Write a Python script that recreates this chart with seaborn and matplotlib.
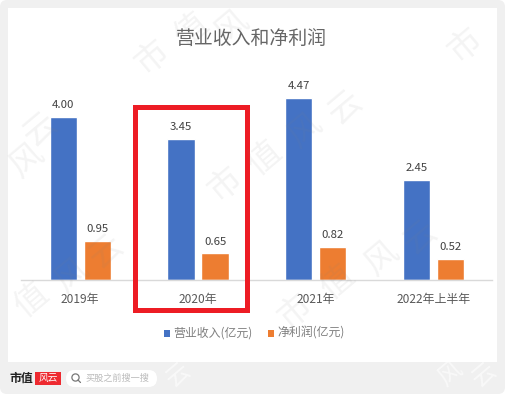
import pandas as pd
import matplotlib
matplotlib.use("Agg")
import matplotlib.pyplot as plt
from matplotlib.patches import Rectangle, FancyBboxPatch, Circle
import seaborn as sns

W, H = 505, 395

years = ["2019年", "2020年", "2021年", "2022年上半年"]
revenue = [4.00, 3.45, 4.47, 2.45]
profit = [0.95, 0.65, 0.82, 0.52]
rev_name = "营业收入(亿元)"
profit_name = "净利润(亿元)"
colors = ["#4472C4", "#ED7D31"]

# 水印: (字, x, y) 像素
marks = [("市", 152, 58), ("值", 192, 30), ("风", 232, 27),
         ("市", 225, 185), ("值", 265, 158), ("风", 305, 130), ("云", 345, 108),
         ("市", 295, 312), ("值", 338, 282), ("风", 382, 258), ("云", 420, 238),
         ("值", 32, 300), ("风", 72, 275), ("云", 106, 252),
         ("风", 27, 160), ("云", 40, 130), ("市", 465, 46)]
foot_marks = [("云", 178, 375), ("风", 450, 375), ("云", 484, 375)]

sns.set_theme(style="white")
plt.rcParams['font.family'] = ['Noto Sans CJK SC', 'DejaVu Sans']

fig = plt.figure(figsize=(W / 100, H / 100), dpi=100, facecolor="white")

# 背景层用像素坐标
bg = fig.add_axes([0, 0, 1, 1], zorder=0)
bg.set_xlim(0, W)
bg.set_ylim(H, 0)
bg.axis("off")
bg.add_patch(FancyBboxPatch((0, 0), W, H - 1, boxstyle="round,pad=0,rounding_size=7",
                            fc="#F0F0F0", ec="none", zorder=1))
bg.add_patch(Rectangle((8, 8), 489, 354, fc="white", ec="none", zorder=1))
for ch, mx, my in foot_marks:
    bg.text(mx, my, ch, rotation=40, fontsize=17, color="white", alpha=0.6,
            fontweight="light", ha="center", va="center", zorder=2)

df = pd.DataFrame({
    "year": years * 2,
    "value": revenue + profit,
    "kind": [rev_name] * 4 + [profit_name] * 4,
})

ax = fig.add_axes([21.4 / W, 1 - 280 / H, 471 / W, 204 / H], zorder=3)
ax.patch.set_alpha(0)
sns.barplot(data=df, x="year", y="value", hue="kind", palette=colors,
            width=0.578, gap=0.2, saturation=1, ax=ax, legend=False)
ax.set_ylim(0, 5)
ax.set_xlim(-0.5, 3.5)
ax.set_xlabel("")
ax.set_ylabel("")
ax.set_yticks([])
sns.despine(ax=ax, left=True)
ax.spines["bottom"].set_color("#D9D9D9")
ax.spines["bottom"].set_linewidth(1)
ax.tick_params(axis="x", length=0, pad=9, labelsize=8.6, labelcolor="#595959")
for c in ax.containers:
    ax.bar_label(c, fmt="%.2f", padding=5, fontsize=8.2, color="#404040")

fg = fig.add_axes([0, 0, 1, 1], zorder=4)
fg.set_xlim(0, W)
fg.set_ylim(H, 0)
fg.axis("off")
for ch, mx, my in marks:
    fg.text(mx, my, ch, rotation=40, fontsize=24, color="#808080", alpha=0.09,
            fontweight="light", ha="center", va="center")
fg.text(251, 38, "营业收入和净利润", fontsize=13.6, color="#666666", fontweight="light",
        ha="center", va="center")

# 红框
fg.add_patch(Rectangle((134.5, 106.5), 112, 203, fc="none", ec="#ED1C24", lw=3.6))

# 图例
fg.add_patch(Rectangle((164, 330), 6, 6.5, fc=colors[0], ec="none"))
fg.text(173, 333, rev_name, fontsize=8.6, color="#7F7F7F", va="center")
fg.add_patch(Rectangle((268, 330), 6, 6.5, fc=colors[1], ec="none"))
fg.text(277, 333, profit_name, fontsize=8.6, color="#7F7F7F", va="center")

# 底部标识
fg.text(10, 378.5, "市值", fontsize=8.6, color="#222222", fontweight="bold", va="center")
fg.add_patch(Rectangle((35, 372), 26, 13, fc="#EE2A30", ec="none"))
fg.text(48, 378, "风云", fontsize=7, color="white", style="italic", ha="center", va="center")
fg.add_patch(FancyBboxPatch((66, 370), 91, 17, boxstyle="round,pad=0,rounding_size=8.5",
                            fc="white", ec="none"))
fg.add_patch(Circle((75.5, 377.5), 3.6, fc="none", ec="#777777", lw=0.9))
fg.plot([78, 80.5], [380, 382.5], color="#777777", lw=0.9)
fg.set_xlim(0, W)
fg.set_ylim(H, 0)
fg.text(85, 378.5, "买股之前搜一搜", fontsize=6.6, color="#BBBBBB", va="center")

fig.savefig("out.png", dpi=100, facecolor=fig.get_facecolor())
